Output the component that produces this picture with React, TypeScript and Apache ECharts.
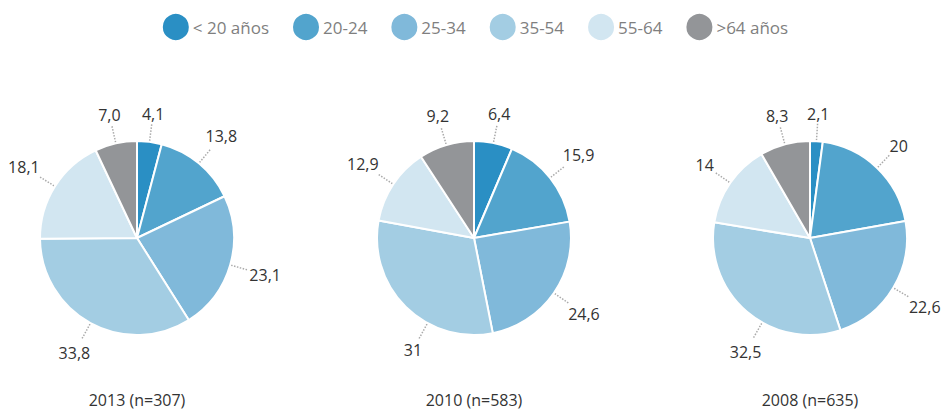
import React, { useEffect, useRef } from "react";
import * as echarts from "echarts";

const categories = ["< 20 años", "20-24", "25-34", "35-54", "55-64", ">64 años"];
const colors = ["#2a8fc4", "#52a4cd", "#80b9da", "#a3cde3", "#d2e6f1", "#939598"];

const values2013 = [4.1, 13.8, 23.1, 33.8, 18.1, 7.0];
const labels2013 = ["4,1", "13,8", "23,1", "33,8", "18,1", "7,0"];
const values2010 = [6.4, 15.9, 24.6, 31, 12.9, 9.2];
const labels2010 = ["6,4", "15,9", "24,6", "31", "12,9", "9,2"];
const values2008 = [2.1, 20, 22.6, 32.5, 14, 8.3];
const labels2008 = ["2,1", "20", "22,6", "32,5", "14", "8,3"];

const titles = ["2013 (n=307)", "2010 (n=583)", "2008 (n=635)"];
const centersX = [137, 474, 810];
const CY = 238;
const R = 97;
// label leader rotation (degrees) for labels nudged off the slice midpoint
const labelNudge: Record<string, number> = { "1-3": -16, "2-3": -11 };

const FONT = "'Open Sans', 'Noto Sans', sans-serif";

export default function App() {
  const ref = useRef<HTMLDivElement>(null);
  useEffect(() => {
    if (!ref.current) return;
    const chart = echarts.init(ref.current, null, { renderer: "svg" });
    const sets = [
      { v: values2013, l: labels2013 },
      { v: values2010, l: labels2010 },
      { v: values2008, l: labels2008 },
    ];
    const series = sets.map((s, i) => ({
      type: "pie",
      center: [centersX[i], CY],
      radius: R,
      startAngle: 90,
      clockwise: true,
      data: s.v.map((val, j) => ({
        name: categories[j],
        value: val,
        label: { formatter: s.l[j] },
      })),
      itemStyle: { borderColor: "#ffffff", borderWidth: 2 },
      label: {
        show: true,
        position: "outside",
        color: "#333333",
        fontSize: 16,
        fontFamily: FONT,
        overflow: "none",
        bleedMargin: 0,
      },
      labelLine: {
        show: true,
        length: 18,
        length2: 0,
        lineStyle: { type: "dotted", color: "#aaaaaa", width: 1.5 },
      },
      labelLayout: (p: any) => {
        const pts = p.labelLinePoints;
        if (!pts) return {};
        const cx = centersX[p.seriesIndex];
        const dx0 = pts[0][0] - cx;
        const dy0 = pts[0][1] - CY;
        let ang = Math.atan2(dy0, dx0);
        const nudge = labelNudge[p.seriesIndex + "-" + p.dataIndex] || 0;
        ang += (nudge * Math.PI) / 180;
        const ux = Math.cos(ang);
        const uy = Math.sin(ang);
        const w = p.labelRect.width;
        const h = p.labelRect.height;
        const lineEnd = R + 18;
        const d = lineEnd + 1 + Math.abs(ux) * w / 2 + Math.abs(uy) * h / 2;
        return {
          x: cx + ux * d,
          y: CY + uy * d,
          align: "center",
          verticalAlign: "middle",
          labelLinePoints: [
            [cx + ux * (R + 1), CY + uy * (R + 1)],
            [cx + ux * lineEnd, CY + uy * lineEnd],
            [cx + ux * lineEnd, CY + uy * lineEnd],
          ],
        };
      },
      emphasis: { disabled: true },
    }));
    chart.setOption({
      animation: false,
      color: colors,
      legend: {
        top: 7,
        left: "center",
        icon: "circle",
        itemWidth: 28,
        itemHeight: 28,
        itemGap: 22,
        data: categories,
        textStyle: { fontSize: 17, color: "#7f7f7f", fontFamily: FONT, padding: [0, 0, 0, -2] },
      },
      title: titles.map((t, i) => ({
        text: t,
        left: centersX[i],
        top: 391,
        padding: 0,
        textAlign: "center",
        textStyle: { fontSize: 16, lineHeight: 17, fontWeight: "normal", color: "#333333", fontFamily: FONT },
      })),
      series,
    });
    return () => chart.dispose();
  }, []);
  return (
    <div
      ref={ref}
      style={{ position: "absolute", left: 0, top: 0, width: 949, height: 410, background: "#fff" }}
    />
  );
}
